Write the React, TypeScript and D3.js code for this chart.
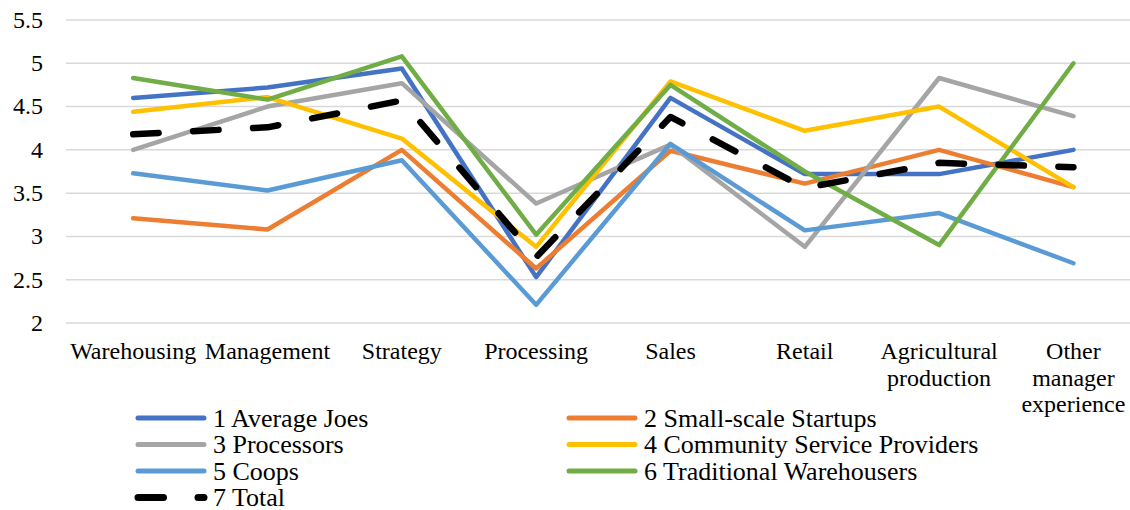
import React from "react";
import * as d3 from "d3";

const categories = [
  "Warehousing",
  "Management",
  "Strategy",
  "Processing",
  "Sales",
  "Retail",
  "Agricultural production",
  "Other manager experience",
];

const yTicks = [2, 2.5, 3, 3.5, 4, 4.5, 5, 5.5];

const seriesNames = [
  "1 Average Joes",
  "2 Small-scale Startups",
  "3 Processors",
  "4 Community Service Providers",
  "5 Coops",
  "6 Traditional Warehousers",
  "7 Total",
];

const averageJoes = [4.6, 4.72, 4.94, 2.53, 4.6, 3.72, 3.72, 4.0];
const smallScaleStartups = [3.21, 3.08, 4.0, 2.63, 3.99, 3.61, 4.0, 3.57];
const processors = [4.0, 4.5, 4.77, 3.38, 4.06, 2.88, 4.83, 4.39];
const communityServiceProviders = [4.44, 4.61, 4.13, 2.88, 4.79, 4.22, 4.5, 3.57];
const coops = [3.73, 3.53, 3.88, 2.21, 4.07, 3.07, 3.27, 2.69];
const traditionalWarehousers = [4.83, 4.58, 5.08, 3.02, 4.75, 3.75, 2.9, 5.0];
const total = [4.18, 4.26, 4.57, 2.76, 4.38, 3.56, 3.85, 3.8];

const seriesValues = [
  averageJoes,
  smallScaleStartups,
  processors,
  communityServiceProviders,
  coops,
  traditionalWarehousers,
  total,
];

const colors = ["#4472C4", "#ED7D31", "#A5A5A5", "#FFC000", "#5B9BD5", "#70AD47", "#000000"];

const W = 1130;
const H = 510;
const FONT = '"Liberation Serif", "Times New Roman", serif';

function wrap(label: string, maxW: number, fontSize: number): string[] {
  const words = label.split(" ");
  const lines: string[] = [];
  let cur = "";
  words.forEach((w) => {
    const test = cur ? cur + " " + w : w;
    if (cur && test.length * 0.45 * fontSize > maxW) {
      lines.push(cur);
      cur = w;
    } else cur = test;
  });
  if (cur) lines.push(cur);
  return lines;
}

export default function App() {
  const x = d3.scaleBand<string>().domain(categories).range([66, 1140.6]).padding(0);
  const y = d3.scaleLinear().domain([2, 5.5]).range([323, 20]);
  const cx = (c: string) => (x(c) as number) + x.bandwidth() / 2;
  const lineGen = d3
    .line<number>()
    .x((_, i) => cx(categories[i]))
    .y((d) => y(d));

  const textStyle = (size: number) => ({ fontFamily: FONT, fontSize: `${size}px` });

  return (
    <svg width={W} height={H} style={{ position: "absolute", left: 0, top: 0, background: "#fff" }}>
      <g>
        {yTicks.map((t) => (
          <line key={t} x1={66} x2={1140} y1={y(t)} y2={y(t)} stroke="#D9D9D9" strokeWidth={1.5} />
        ))}
      </g>
      <g>
        {yTicks.map((t) => (
          <text key={t} x={43} y={y(t)} dy="0.33em" textAnchor="end" fill="#000" style={textStyle(24)}>
            {String(t)}
          </text>
        ))}
      </g>
      <g>
        {categories.map((c) => (
          <text key={c} x={cx(c)} y={359} textAnchor="middle" fill="#000" style={textStyle(24)}>
            {wrap(c, 132, 24).map((ln, j) => (
              <tspan key={j} x={cx(c)} dy={j === 0 ? 0 : 26.5}>
                {ln}
              </tspan>
            ))}
          </text>
        ))}
      </g>
      <g>
        {seriesValues.map((vals, i) => (
          <path
            key={i}
            d={lineGen(vals) as string}
            fill="none"
            stroke={colors[i]}
            strokeWidth={i === 6 ? 6.5 : 4.5}
            strokeLinejoin="round"
            strokeLinecap="round"
            strokeDasharray={i === 6 ? "25.5 34.5" : undefined}
          />
        ))}
      </g>
      <g>
        {seriesNames.map((name, i) => {
          const col = i % 2;
          const row = Math.floor(i / 2);
          const lx = col === 0 ? 135 : 566;
          const ly = 418 + row * 26.5;
          const isTotal = i === 6;
          return (
            <g key={name}>
              <line
                x1={lx + 3}
                x2={lx + 69}
                y1={ly}
                y2={ly}
                stroke={colors[i]}
                strokeWidth={isTotal ? 7 : 5}
                strokeLinecap="round"
                strokeDasharray={isTotal ? "25.5 34.5" : undefined}
              />
              <text x={lx + 78} y={ly} dy="0.33em" fill="#000" style={textStyle(26)}>
                {name}
              </text>
            </g>
          );
        })}
      </g>
    </svg>
  );
}
